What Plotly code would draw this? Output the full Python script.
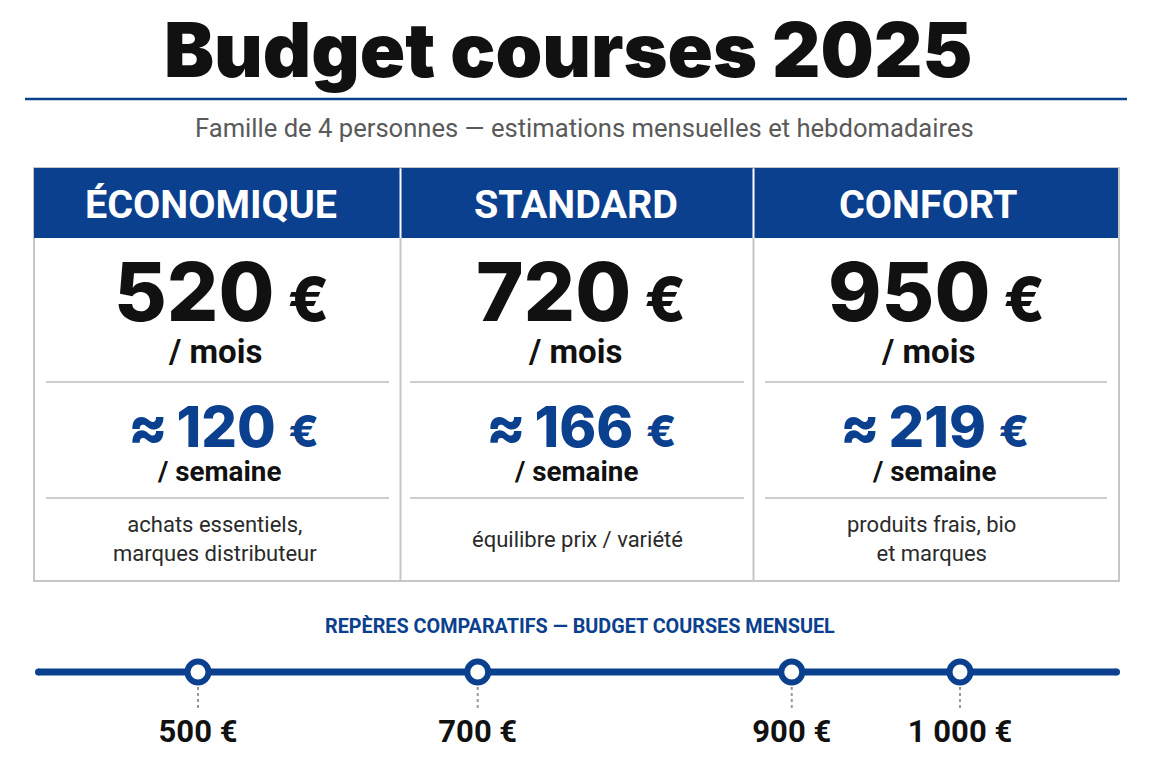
import numpy as np
import plotly.graph_objects as go

W = 1152
H = 768

NAVY = '#0b408f'
INK = '#111111'

title = 'Budget courses 2025'
subtitle = 'Famille de 4 personnes — estimations mensuelles et hebdomadaires'
section_title = 'REPÈRES COMPARATIFS — BUDGET COURSES MENSUEL'

plans = ['ÉCONOMIQUE', 'STANDARD', 'CONFORT']
monthly = [520, 720, 950]
weekly = [120, 166, 219]
notes = ['achats essentiels,<br>marques distributeur', 'équilibre prix / variété', 'produits frais, bio<br>et marques']

benchmarks = [500, 700, 900, 1000]
benchmark_labels = ['500 €', '700 €', '900 €', '1 000 €']


def px(x):
    return x / W


def py(y):
    return 1 - y / H


def label(x, y, text, size, color=INK, font='Inter', weight=400):
    fig.add_annotation(
        x=px(x), y=py(y), xref='paper', yref='paper', text=text, showarrow=False,
        xanchor='center', yanchor='middle', align='center',
        font=dict(family=font, size=size, color=color, weight=weight),
    )


def rule(x0, y0, x1, y1, color, width, layer='above'):
    fig.add_shape(type='line', xref='paper', yref='paper', x0=px(x0), y0=py(y0), x1=px(x1), y1=py(y1),
                  line=dict(color=color, width=width), layer=layer)


def box(x0, y0, x1, y1, fill, kind='rect', layer='above'):
    fig.add_shape(type=kind, xref='paper', yref='paper', x0=px(x0), y0=py(y0), x1=px(x1), y1=py(y1),
                  fillcolor=fill, line_width=0, layer=layer)


fig = go.Figure()

label(568, 50, title, 75, font='Inter', weight=900)
rule(25, 99, 1127, 99, NAVY, 2.5)
label(584, 128, subtitle, 25.6, color='#5a5a5a', font='Roboto')

# cards
edges = [34, 400.5, 753.5, 1119]
head_x = [211, 576, 928]
month_x = [221, 581, 936]
mois_x = [215, 575, 928]
week_x = [223, 581, 934]
sem_x = [219, 576, 934]
note_x = [215, 577, 931]
sep_x = [(46, 389), (410, 744), (765, 1107)]

fig.add_shape(type='rect', xref='paper', yref='paper', x0=px(edges[0]), y0=py(168), x1=px(edges[3]), y1=py(581),
              line=dict(color='#c6c6c6', width=2), fillcolor='white')
for i, name in enumerate(plans):
    box(edges[i] + (1 if i else 0), 168, edges[i + 1] - 1, 238, NAVY)
    if i:
        rule(edges[i], 238, edges[i], 581, '#c6c6c6', 2)
    rule(sep_x[i][0], 382, sep_x[i][1], 382, '#bdbdbd', 1.5)
    rule(sep_x[i][0], 498, sep_x[i][1], 498, '#bdbdbd', 1.5)
    label(head_x[i], 204.5, name, 39.5, color='white', font='Roboto', weight=700)
    label(month_x[i], 292, f'{monthly[i]}<span style="font-size:60px"> €</span>', 81, weight=800)
    label(mois_x[i], 352, '/ mois', 33, font='Roboto', weight=700)
    label(week_x[i], 426,
          f'<span style="font-size:58px">≈</span><span style="font-size:40px"> </span>{weekly[i]}'
          f'<span style="font-size:58px"> </span><span style="font-size:44px">€</span>',
          56, color=NAVY, weight=800)
    label(sem_x[i], 471, '/ semaine', 27.8, font='Roboto', weight=700)
    label(note_x[i], 539, notes[i], 22, color='#2a2a2a', font='Roboto')

label(580, 626, section_title, 19.8, color=NAVY, font='Roboto', weight=700)

# the picture's ruler is not linear, positions follow value ** 1.4
scale_x = np.power(np.array(benchmarks, dtype=float), 1.4)
per_px = (scale_x[3] - scale_x[0]) / (960 - 198)
x_range = [scale_x[0] - 198 * per_px, scale_x[0] + (W - 198) * per_px]

for x in scale_x:
    fig.add_shape(type='line', xref='x', yref='paper', x0=x, x1=x, y0=py(687), y1=py(711),
                  line=dict(color='#9a9a9a', width=2, dash='3px,3px'))

rule(38.5, 672, 1116.5, 672, NAVY, 7, layer='below')
box(35, 668.5, 42, 675.5, NAVY, kind='circle', layer='below')
box(1113, 668.5, 1120, 675.5, NAVY, kind='circle', layer='below')

fig.add_trace(go.Scatter(
    x=scale_x,
    y=[0] * len(scale_x),
    mode='markers',
    marker=dict(size=21, color='white', line=dict(color=NAVY, width=6)),
    hoverinfo='skip',
    showlegend=False,
))

fig.update_xaxes(
    range=x_range, tickmode='array', tickvals=scale_x, ticktext=benchmark_labels,
    tickfont=dict(family='Roboto', size=31, color=INK, weight=700),
    showgrid=False, zeroline=False, showline=False, ticks='', fixedrange=True,
)
fig.update_yaxes(
    range=[-1, 1], domain=[py(710), py(634)], showgrid=False, zeroline=False,
    showticklabels=False, fixedrange=True,
)
fig.update_layout(
    width=W, height=H, margin=dict(l=0, r=0, t=0, b=0),
    paper_bgcolor='white', plot_bgcolor='rgba(0,0,0,0)', showlegend=False,
)
fig.write_html('out.html', config={'displayModeBar': False}, post_script="document.body.style.margin='0';")
